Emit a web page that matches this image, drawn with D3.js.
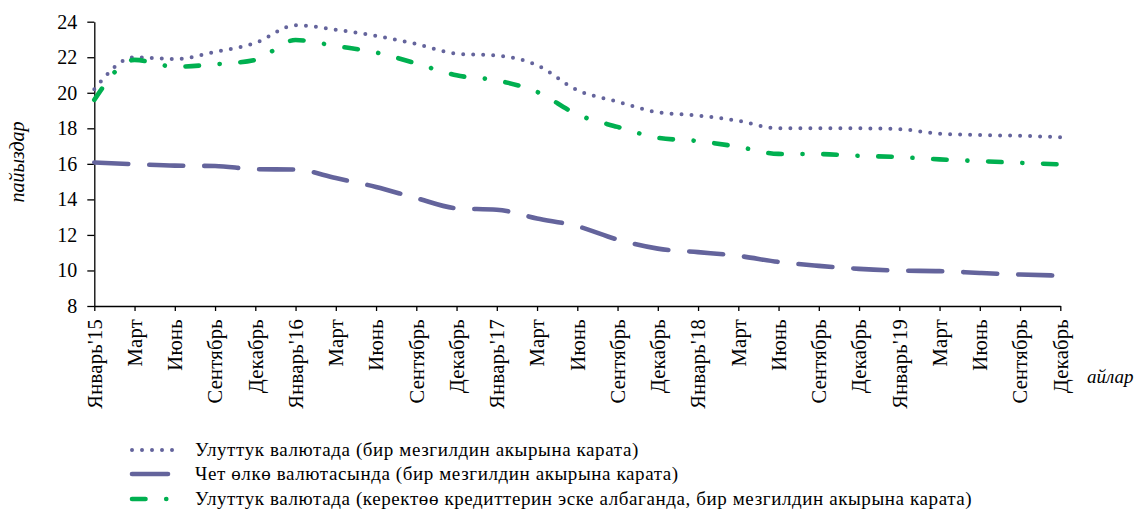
<!DOCTYPE html>
<html>
<head>
<meta charset="utf-8">
<script src="https://cdn.jsdelivr.net/npm/d3@7"></script>
<style>
  body { margin: 0; background: #fff; }
  svg text { font-family: 'Liberation Serif', 'DejaVu Serif', serif; fill: #000; }
</style>
</head>
<body>
<div id="chart"></div>
<script>
// svg size
const FRAME_WIDTH = 1137;
const FRAME_HEIGHT = 509;
const PLOT = {left: 94.3, right: 1060.3, top: 21.7, bottom: 306};

// month labels on the x axis
const MONTHS = ["Январь'15", "Март", "Июнь", "Сентябрь", "Декабрь",
                "Январь'16", "Март", "Июнь", "Сентябрь", "Декабрь",
                "Январь'17", "Март", "Июнь", "Сентябрь", "Декабрь",
                "Январь'18", "Март", "Июнь", "Сентябрь", "Декабрь",
                "Январь'19", "Март", "Июнь", "Сентябрь", "Декабрь"];

const Y_TICKS = [8, 10, 12, 14, 16, 18, 20, 22, 24];

// series values, %
const NATIONAL = [20.2, 22.0, 21.9, 22.3, 22.8, 23.8, 23.55, 23.2, 22.75, 22.2, 22.1, 21.55,
                  20.15, 19.5, 18.9, 18.72, 18.42, 18.0, 18.0, 18.0, 17.95, 17.7, 17.62, 17.58, 17.5];
const FOREIGN = [16.08, 15.98, 15.9, 15.88, 15.7, 15.68, 15.2, 14.7, 14.07, 13.5, 13.42, 12.93,
                 12.49, 11.74, 11.23, 11.03, 10.82, 10.48, 10.26, 10.09, 9.99, 9.96, 9.86, 9.77, 9.71];
const NATIONAL_EXCL = [19.6, 21.85, 21.47, 21.6, 21.85, 22.97, 22.63, 22.27, 21.65, 20.98, 20.7, 20.05,
                       18.78, 18.08, 17.47, 17.28, 16.96, 16.56, 16.55, 16.45, 16.38, 16.25, 16.15, 16.06, 15.97];

const LEGEND = ["Улуттук валютада (бир мезгилдин  акырына карата)",
                "Чет өлкө валютасында  (бир мезгилдин  акырына карата)",
                "Улуттук валютада (керектөө кредиттерин эске албаганда,  бир мезгилдин  акырына карата)"];

const PURPLE = "#64649c";
const GREEN = "#00b050";

// line styles for the three series
const STYLES = [
  {data: NATIONAL, color: PURPLE, width: 4, dash: "0,10"},
  {data: FOREIGN, color: PURPLE, width: 4.6, dash: "34,21"},
  {data: NATIONAL_EXCL, color: GREEN, width: 4.6, dash: "13.5,20.7,0.1,20.7"}
];

const svg = d3.select("#chart")
  .append("svg")
    .attr("width", FRAME_WIDTH)
    .attr("height", FRAME_HEIGHT);

const x = d3.scalePoint()
  .domain(d3.range(MONTHS.length))
  .range([PLOT.left, PLOT.right]);

const y = d3.scaleLinear()
  .domain([8, 24])
  .range([PLOT.bottom, PLOT.top]);

// x axis
const xAxis = svg.append("g")
  .attr("transform", "translate(0," + PLOT.bottom + ")")
  .call(d3.axisBottom(x).tickSize(5).tickSizeOuter(0).tickFormat((i) => MONTHS[i]));

xAxis.selectAll("text")
  .attr("transform", "rotate(-90)")
  .attr("x", -13)
  .attr("y", 0)
  .attr("dy", "0.33em")
  .attr("text-anchor", "end")
  .style("font-size", "20.5px")
  .style("letter-spacing", "0.3px");

// y axis
const yAxis = svg.append("g")
  .attr("transform", "translate(" + PLOT.left + ",0)")
  .call(d3.axisLeft(y).tickValues(Y_TICKS).tickSize(7).tickSizeOuter(0));

yAxis.selectAll("text")
  .attr("x", -17)
  .style("font-size", "20px");

svg.selectAll("g").attr("font-family", null);

svg.selectAll(".domain, .tick line")
  .attr("stroke", "#000")
  .attr("stroke-width", 1.3);

// axis titles
svg.append("text")
  .attr("transform", "translate(24,162) rotate(-90)")
  .attr("text-anchor", "middle")
  .style("font-style", "italic")
  .style("font-size", "20px")
  .text("пайыздар");

svg.append("text")
  .attr("x", 1087)
  .attr("y", 383)
  .style("font-style", "italic")
  .style("font-size", "19px")
  .text("айлар");

// the lines
const line = d3.line()
  .x((d, i) => x(i))
  .y((d) => y(d))
  .curve(d3.curveMonotoneX);

STYLES.forEach((s) => {
  svg.append("path")
    .datum(s.data)
    .attr("fill", "none")
    .attr("stroke", s.color)
    .attr("stroke-width", s.width)
    .attr("stroke-linecap", "round")
    .attr("stroke-dasharray", s.dash)
    .attr("d", line);
});

// legend
const ROWS = [450, 474, 499];
const legend = svg.append("g");

STYLES.forEach((s, i) => {
  legend.append("line")
    .attr("x1", 132)
    .attr("x2", i === 0 ? 182 : (i === 1 ? 168 : 167))
    .attr("y1", ROWS[i])
    .attr("y2", ROWS[i])
    .attr("stroke", s.color)
    .attr("stroke-width", s.width)
    .attr("stroke-linecap", "round")
    .attr("stroke-dasharray", i === 1 ? null : s.dash);

  legend.append("text")
    .attr("x", 195)
    .attr("y", ROWS[i])
    .attr("dy", "0.33em")
    .style("font-size", "19px")
    .style("letter-spacing", "0.6px")
    .text(LEGEND[i]);
});
</script>
</body>
</html>
